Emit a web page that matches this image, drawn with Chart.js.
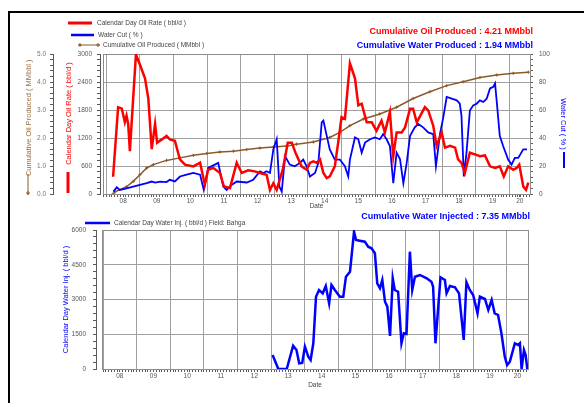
<!DOCTYPE html>
<html>
<head>
<meta charset="utf-8">
<script src="https://cdn.jsdelivr.net/npm/chart.js@4"></script>
<style>
  body { margin: 0; background: #fff; overflow: hidden; }
  #frame { position: absolute; left: 8px; top: 11px; width: 700px; height: 500px; border: 2px solid #000; }
  canvas { position: absolute; left: 0; }
  #top { top: 0; }
  #bottom { top: 212px; }
</style>
</head>
<body>
<div id="frame"></div>
<canvas id="top" width="584" height="212"></canvas>
<canvas id="bottom" width="584" height="191"></canvas>
<script>
// ---- data (x = decimal year) ----
const oilYears = [2008.20,2008.35,2008.46,2008.55,2008.60,2008.65,2008.70,2008.88,2009.00,2009.15,2009.25,2009.35,2009.45,2009.51,2009.65,2009.79,2009.89,2010.04,2010.19,2010.34,2010.59,2010.79,2010.93,2011.03,2011.18,2011.38,2011.50,2011.68,2011.88,2012.03,2012.22,2012.42,2012.57,2012.77,2012.87,2012.97,2013.07,2013.25,2013.40,2013.52,2013.63,2013.81,2013.96,2014.06,2014.16,2014.26,2014.36,2014.46,2014.56,2014.65,2014.80,2014.90,2015.00,2015.10,2015.25,2015.40,2015.50,2015.60,2015.75,2015.90,2016.04,2016.19,2016.29,2016.44,2016.54,2016.64,2016.79,2016.89,2017.04,2017.13,2017.24,2017.48,2017.58,2017.73,2017.83,2017.98,2018.08,2018.23,2018.38,2018.47,2018.57,2018.67,2018.82,2018.97,2019.12,2019.27,2019.42,2019.57,2019.71,2019.83,2019.96,2020.11,2020.21,2020.29,2020.41,2020.49,2020.56];
const oilRate = [370,1860,1830,1540,1680,1500,920,2990,2770,2480,2040,960,1500,1100,1170,1245,1170,1140,740,630,590,670,200,520,560,450,160,130,670,450,506,485,450,413,87,230,87,520,1100,1100,885,593,520,667,700,667,740,450,341,376,593,1100,1645,1610,2800,2480,1900,1935,1537,1537,1354,1572,1320,1755,810,1320,1320,1428,1826,1826,1537,1863,1790,1463,1030,1320,993,1030,993,740,667,450,885,848,810,826,593,559,593,376,593,520,559,630,160,87,245];

const wcYears = [2008.21,2008.31,2008.40,2008.60,2008.80,2009.00,2009.20,2009.35,2009.45,2009.60,2009.79,2009.89,2010.04,2010.19,2010.39,2010.59,2010.79,2010.90,2011.03,2011.23,2011.33,2011.48,2011.58,2011.73,2011.88,2012.18,2012.37,2012.57,2012.67,2012.77,2012.87,2012.97,2013.07,2013.15,2013.22,2013.32,2013.46,2013.61,2013.76,2013.86,2013.96,2014.06,2014.21,2014.31,2014.41,2014.46,2014.56,2014.65,2014.80,2014.95,2015.10,2015.20,2015.25,2015.40,2015.50,2015.60,2015.70,2015.85,2015.99,2016.14,2016.24,2016.34,2016.44,2016.54,2016.64,2016.74,2016.84,2016.94,2017.04,2017.18,2017.28,2017.43,2017.58,2017.73,2017.81,2017.93,2018.03,2018.13,2018.28,2018.43,2018.52,2018.57,2018.64,2018.72,2018.82,2018.92,2019.02,2019.12,2019.22,2019.32,2019.42,2019.52,2019.57,2019.63,2019.71,2019.81,2019.96,2020.06,2020.16,2020.26,2020.41,2020.52];
const waterCut = [1.7,4.8,2.9,4.1,5.3,6.5,7.7,8.9,8.2,8.9,8.5,10.1,9.0,12.5,13.8,15.0,13.8,2.9,18.6,21.0,22.2,5.3,2.9,6.5,8.9,8.2,10.1,16.2,15.0,16.2,15.0,31.9,39.1,5.3,1.7,27.0,21.0,19.8,22.2,24.6,19.8,12.5,15.0,22.2,51.2,52.4,41.5,31.9,24.6,24.6,19.8,12.5,24.6,40.4,39.1,29.5,36.7,39.1,40.4,39.1,42.8,39.1,34.3,7.7,29.5,25.0,7.7,22.2,41.5,47.6,50.0,47.6,44.0,42.8,19.8,42.8,54.9,69.3,68.1,66.9,64.5,56.0,12.5,29.5,59.6,63.3,64.5,66.9,65.7,68.1,75.4,76.6,79.0,63.3,41.5,34.3,24.6,21.0,25.8,25.8,31.9,31.9];

const cumYears = [2008.20,2008.26,2008.60,2008.80,2009.00,2009.20,2009.40,2009.79,2010.19,2010.59,2010.99,2011.38,2011.78,2012.18,2012.57,2012.97,2013.37,2013.66,2014.16,2014.65,2014.95,2015.25,2015.65,2016.14,2016.64,2017.13,2017.63,2018.13,2018.62,2019.12,2019.62,2020.11,2020.56];
const cumOil = [0.0,0.08,0.26,0.45,0.69,0.93,1.05,1.20,1.29,1.38,1.45,1.50,1.53,1.59,1.64,1.68,1.71,1.78,1.86,2.02,2.20,2.44,2.68,2.86,3.10,3.41,3.65,3.87,4.01,4.16,4.25,4.31,4.35];

const injYears = [2013.04,2013.21,2013.46,2013.65,2013.75,2013.83,2013.92,2014.00,2014.10,2014.17,2014.25,2014.33,2014.42,2014.53,2014.62,2014.72,2014.79,2014.89,2015.04,2015.14,2015.22,2015.34,2015.46,2015.52,2015.63,2015.78,2015.88,2015.98,2016.08,2016.15,2016.23,2016.30,2016.38,2016.45,2016.53,2016.61,2016.67,2016.77,2016.87,2016.94,2017.02,2017.12,2017.19,2017.27,2017.42,2017.62,2017.76,2017.81,2017.88,2018.03,2018.16,2018.21,2018.31,2018.46,2018.58,2018.69,2018.72,2018.80,2018.90,2019.00,2019.13,2019.20,2019.35,2019.45,2019.55,2019.64,2019.74,2019.84,2019.94,2020.01,2020.09,2020.24,2020.34,2020.39,2020.44,2020.51,2020.56,2020.61];
const waterInj = [604,0,0,1006,820,246,260,963,531,389,1110,3121,3410,3267,3583,2836,3626,3410,3121,3121,3984,4200,5927,5569,5540,5496,5280,5210,4995,3700,3484,3842,2905,2690,1425,3915,3410,3337,1110,1541,1511,5064,3410,3984,4058,3915,3770,3553,1110,3958,3842,3267,3583,3527,3267,1684,1252,3743,3410,3195,2404,3121,3022,2547,2979,2404,2331,1541,531,173,315,1110,1036,1110,0,820,604,0];

const oilLabel = 'Calendar Day Oil Rate ( bbl/d )';
const wcLabel = 'Water Cut ( % )';
const cumLabel = 'Cumulative Oil Produced ( MMbbl )';
const injLabel = 'Calendar Day Water Inj. ( bbl/d ) Field: Bahga';
const injAxisLabel = 'Calendar Day Water Inj. ( bbl/d )';
const cumOilText = 'Cumulative Oil Produced : 4.21 MMbbl';
const cumWaterText = 'Cumulative Water Produced : 1.94 MMbbl';
const cumInjText = 'Cumulative Water Injected : 7.35 MMbbl';

// ---- styling ----
const RED = '#ff0000', BLUE = '#0000ff', BROWN = '#8b5a2b';
const GRID = '#a0a0a0', AXIS = '#5a5a5a', TXT = '#555';
const FONT = '"Liberation Sans", Arial, sans-serif';
Chart.defaults.font.family = FONT;
Chart.defaults.font.size = 6.5;
Chart.defaults.color = TXT;

const pts = (xs, ys) => xs.map((x, i) => ({ x, y: ys[i] }));

// monthly ticks, grid at each year, label in the middle of each year
function yearTicks(scale) {
  const t = [];
  for (let m = Math.ceil(scale.min * 12); m <= Math.floor(scale.max * 12); m++) t.push({ value: m / 12 });
  const last = Math.floor(scale.max);
  t.push({ value: (last + scale.max) / 2 });
  t.sort((a, b) => a.value - b.value);
  scale.ticks = t;
}
function yearLabel(v, max) {
  const last = Math.floor(max);
  if (Math.abs(v - (last + max) / 2) < 1e-6) return String(last).slice(2);
  const y = Math.floor(v + 1e-9);
  if (Math.abs(v - y - 0.5) < 1e-6 && y + 1 <= max) return String(y).slice(2);
  return '';
}
const yearGrid = c => (c.tick && Math.abs(c.tick.value - Math.round(c.tick.value)) < 1e-6) ? GRID : 'transparent';

function stepTicks(step) {
  return scale => {
    const n = Math.round((scale.max - scale.min) / step);
    const t = [];
    for (let i = 0; i <= n; i++) t.push({ value: scale.min + i * step });
    scale.ticks = t;
  };
}

function xAxis(min, max, h, pad) {
  return {
    type: 'linear', position: 'bottom', min, max,
    afterBuildTicks: yearTicks,
    afterFit: s => { s.height = h; },
    ticks: { autoSkip: false, maxRotation: 0, padding: 0, callback(v) { return yearLabel(v, this.max); } },
    grid: { color: yearGrid, tickColor: AXIS, tickLength: 3 },
    border: { color: AXIS },
    title: { display: true, text: 'Date', font: { size: 6.5 }, color: '#444', padding: { top: 0, bottom: pad } }
  };
}

function seg(ctx, x1, y1, x2, y2, color, w) {
  ctx.strokeStyle = color; ctx.lineWidth = w;
  ctx.beginPath(); ctx.moveTo(x1, y1); ctx.lineTo(x2, y2); ctx.stroke();
}
function cross(ctx, x, y, r, color) {
  ctx.strokeStyle = color; ctx.lineWidth = 1;
  ctx.beginPath(); ctx.moveTo(x - r, y); ctx.lineTo(x + r, y); ctx.moveTo(x, y - r); ctx.lineTo(x, y + r); ctx.stroke();
}

function deco(draw) {
  return {
    id: 'deco',
    beforeDatasetsDraw(chart) {
      const { ctx, chartArea: a } = chart;
      ctx.save();
      ctx.strokeStyle = '#8c8c8c'; ctx.lineWidth = 1;
      ctx.strokeRect(Math.round(a.left) + 0.5, Math.round(a.top) + 0.5, Math.round(a.right - a.left), Math.round(a.bottom - a.top));
      ctx.restore();
    },
    afterDraw(chart) {
      const ctx = chart.ctx;
      ctx.save();
      ctx.textBaseline = 'middle';
      draw(ctx);
      ctx.restore();
    }
  };
}

// ---- top chart ----
new Chart(document.getElementById('top'), {
  type: 'line',
  data: {
    datasets: [
      { label: oilLabel, data: pts(oilYears, oilRate), yAxisID: 'yRate', borderColor: RED, borderWidth: 2.5, pointRadius: 0 },
      { label: wcLabel, data: pts(wcYears, waterCut), yAxisID: 'yWC', borderColor: BLUE, borderWidth: 1.8, pointRadius: 0 },
      { label: cumLabel, data: pts(cumYears, cumOil), yAxisID: 'yCum', borderColor: BROWN, borderWidth: 1.5,
        pointStyle: 'cross', pointRadius: 1.6, pointBorderColor: BROWN, pointBorderWidth: 1 }
    ]
  },
  options: {
    responsive: false, animation: false, events: [],
    layout: { padding: { top: 54, right: 10, left: 0, bottom: 0 } },
    plugins: { legend: { display: false }, tooltip: { enabled: false } },
    scales: {
      x: xAxis(2007.9, 2020.61, 18, 1.5),
      yCum: {
        type: 'linear', position: 'left', weight: 2, min: 0, max: 5,
        afterBuildTicks: stepTicks(0.2), afterFit: s => { s.width = 53; },
        ticks: { autoSkip: false, padding: 4, color: '#8a7350', callback: (v, i) => i % 5 === 0 ? v.toFixed(1) : '' },
        grid: { drawOnChartArea: false, color: AXIS, tickColor: AXIS, tickLength: 3 },
        border: { color: AXIS },
        title: { display: true, text: '      ' + cumLabel, color: '#9a7040', font: { size: 7.5 }, padding: { top: 24, bottom: 0 } }
      },
      yRate: {
        type: 'linear', position: 'left', weight: 1, min: 0, max: 3000,
        afterBuildTicks: stepTicks(120), afterFit: s => { s.width = 47; },
        ticks: { autoSkip: false, padding: 5, callback: (v, i) => i % 5 === 0 ? String(Math.round(v)) : '' },
        grid: { color: c => c.index % 5 === 0 ? GRID : 'transparent', tickColor: AXIS, tickLength: 3 },
        border: { color: AXIS },
        title: { display: true, text: '          ' + oilLabel, color: RED, font: { size: 7.5 }, padding: { top: 11, bottom: 0 } }
      },
      yPad: {
        type: 'linear', position: 'left', weight: 0, min: 0, max: 1,
        afterFit: s => { s.width = 3; },
        ticks: { display: false }, grid: { display: false }, border: { display: false }
      },
      yWC: {
        type: 'linear', position: 'right', min: 0, max: 100,
        afterBuildTicks: stepTicks(4), afterFit: s => { s.width = 44; },
        ticks: { autoSkip: false, padding: 6, callback: (v, i) => i % 5 === 0 ? String(Math.round(v)) : '' },
        grid: { drawOnChartArea: false, color: AXIS, tickColor: AXIS, tickLength: 3 },
        border: { color: AXIS },
        title: { display: true, text: wcLabel, color: BLUE, font: { size: 7.5 }, padding: { top: 6, bottom: 0 } }
      }
    }
  },
  plugins: [deco(ctx => {
    ctx.font = '6.5px ' + FONT;
    ctx.fillStyle = '#444';
    ctx.textAlign = 'left';
    seg(ctx, 68, 23, 92, 23, RED, 3);
    ctx.fillText(oilLabel, 97, 23);
    seg(ctx, 71, 35, 94, 35, BLUE, 2.5);
    ctx.fillText(wcLabel, 98, 35);
    seg(ctx, 78, 45, 100, 45, BROWN, 1);
    cross(ctx, 80, 45, 2, BROWN); cross(ctx, 98, 45, 2, BROWN);
    ctx.fillText(cumLabel, 103, 45);
    // axis title line samples
    seg(ctx, 68, 172, 68, 193, RED, 3);
    seg(ctx, 28, 174, 28, 195, BROWN, 1);
    cross(ctx, 28, 193, 2, BROWN);
    seg(ctx, 564, 152, 564, 168, BLUE, 2);
    ctx.font = 'bold 9px ' + FONT;
    ctx.textAlign = 'right';
    ctx.fillStyle = RED;
    ctx.fillText(cumOilText, 533, 32);
    ctx.fillStyle = BLUE;
    ctx.fillText(cumWaterText, 533, 46);
  })]
});

// ---- bottom chart ----
new Chart(document.getElementById('bottom'), {
  type: 'line',
  data: {
    datasets: [
      { label: injLabel, data: pts(injYears, waterInj), yAxisID: 'yInj', borderColor: BLUE, borderWidth: 2.5, pointRadius: 0 }
    ]
  },
  options: {
    responsive: false, animation: false, events: [],
    layout: { padding: { top: 18, right: 56, left: 0, bottom: 13 } },
    plugins: { legend: { display: false }, tooltip: { enabled: false } },
    scales: {
      x: xAxis(2007.97, 2020.63, 21, 1),
      yInj: {
        type: 'linear', position: 'left', weight: 1, min: 0, max: 6000,
        afterBuildTicks: stepTicks(300), afterFit: s => { s.width = 96; },
        ticks: { autoSkip: false, padding: 7, callback: (v, i) => i % 5 === 0 ? String(Math.round(v)) : '' },
        grid: { color: c => c.index % 5 === 0 ? GRID : 'transparent', tickColor: AXIS, tickLength: 3 },
        border: { color: AXIS },
        title: { display: true, text: injAxisLabel, color: BLUE, font: { size: 7.5 }, padding: { top: 61, bottom: 0 } }
      },
      yPad: {
        type: 'linear', position: 'left', weight: 0, min: 0, max: 1,
        afterFit: s => { s.width = 6; },
        ticks: { display: false }, grid: { display: false }, border: { display: false }
      }
    }
  },
  plugins: [deco(ctx => {
    ctx.font = '6.5px ' + FONT;
    ctx.fillStyle = '#444';
    ctx.textAlign = 'left';
    seg(ctx, 85, 11, 110, 11, BLUE, 2.5);
    ctx.fillText(injLabel, 114, 11);
    ctx.font = 'bold 9px ' + FONT;
    ctx.textAlign = 'right';
    ctx.fillStyle = BLUE;
    ctx.fillText(cumInjText, 530, 5);
  })]
});
</script>
</body>
</html>
